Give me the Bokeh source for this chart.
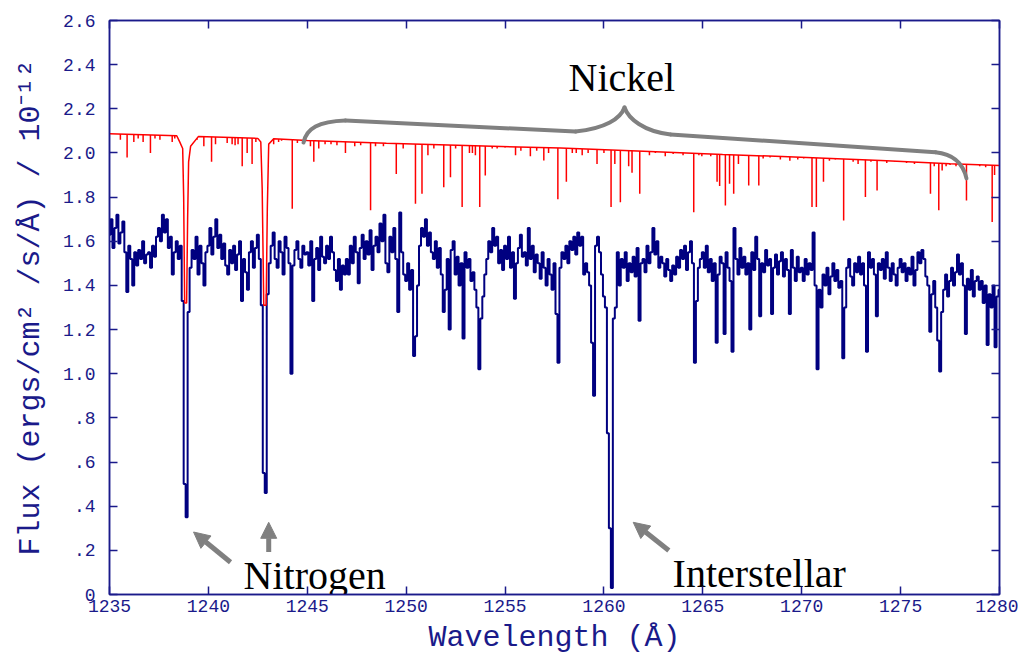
import numpy as np
from bokeh.plotting import figure
from bokeh.models import Range1d, LinearAxis, FixedTicker, Arrow, NormalHead, CustomJSTickFormatter
from bokeh.core.properties import value
from bokeh.embed import file_html
from bokeh.resources import INLINE

# ---------------- data ----------------
# observed spectrum (blue), 0.1 A bins starting at 1235.0
blue_start = 1235.0
blue_step = 0.1
blue_flux = [
    1.63, 1.70, 1.57, 1.66, 1.72, 1.59, 1.64, 1.69, 1.55, 1.37,  # 1235
    1.58, 1.52, 1.40, 1.55, 1.49, 1.56, 1.52, 1.60, 1.50, 1.54,  # 1236
    1.55, 1.48, 1.58, 1.53, 1.62, 1.66, 1.60, 1.72, 1.64, 1.70,  # 1237
    1.57, 1.62, 1.45, 1.55, 1.60, 1.52, 1.58, 1.33, 0.50, 0.35,  # 1238
    1.28, 1.48, 1.56, 1.52, 1.62, 1.45, 1.58, 1.50, 1.40, 1.55,  # 1239
    1.58, 1.66, 1.54, 1.62, 1.70, 1.57, 1.63, 1.52, 1.59, 1.49,  # 1240
    1.45, 1.56, 1.50, 1.58, 1.47, 1.54, 1.60, 1.33, 1.52, 1.46,  # 1241
    1.38, 1.55, 1.60, 1.48, 1.57, 1.63, 1.52, 1.31, 0.55, 0.46,  # 1242
    1.36, 1.50, 1.58, 1.64, 1.52, 1.48, 1.60, 1.55, 1.45, 1.62,  # 1243
    1.57, 1.50, 1.00, 1.49, 1.56, 1.60, 1.52, 1.48, 1.58, 1.54,  # 1244
    1.55, 1.49, 1.60, 1.33, 1.52, 1.57, 1.47, 1.62, 1.53, 1.50,  # 1245
    1.58, 1.52, 1.62, 1.55, 1.47, 1.42, 1.52, 1.38, 1.49, 1.45,  # 1246
    1.52, 1.45, 1.58, 1.50, 1.62, 1.55, 1.41, 1.57, 1.63, 1.52,  # 1247
    1.60, 1.54, 1.65, 1.47, 1.58, 1.62, 1.55, 1.68, 1.60, 1.72,  # 1248
    1.50, 1.46, 1.62, 1.55, 1.66, 1.52, 1.28, 1.73, 1.55, 1.45,  # 1249
    1.42, 1.50, 1.38, 1.47, 1.08, 1.17, 1.40, 1.58, 1.66, 1.62,  # 1250
    1.70, 1.58, 1.64, 1.55, 1.52, 1.60, 1.48, 1.57, 1.45, 1.28,  # 1251
    1.38, 1.52, 1.20, 1.56, 1.60, 1.45, 1.53, 1.40, 1.50, 1.16,  # 1252
    1.55, 1.48, 1.52, 1.42, 1.46, 1.38, 1.30, 1.02, 1.25, 1.35,  # 1253
    1.45, 1.52, 1.60, 1.55, 1.66, 1.58, 1.62, 1.50, 1.56, 1.47,  # 1254
    1.58, 1.52, 1.62, 1.48, 1.55, 1.34, 1.50, 1.57, 1.63, 1.53,  # 1255
    1.55, 1.49, 1.66, 1.52, 1.58, 1.46, 1.54, 1.50, 1.43, 1.55,  # 1256
    1.48, 1.40, 1.52, 1.45, 1.38, 1.50, 1.27, 1.05, 1.48, 1.55,  # 1257
    1.52, 1.58, 1.50, 1.60, 1.56, 1.62, 1.54, 1.64, 1.58, 1.62,  # 1258
    1.45, 1.50, 1.46, 1.40, 1.14, 0.90, 1.58, 1.62, 1.55, 1.45,  # 1259
    1.35, 1.30, 0.73, 0.30, 0.03, 1.25, 1.30, 1.55, 1.40, 1.52,  # 1260
    1.48, 1.55, 1.42, 1.50, 1.46, 1.53, 1.44, 1.57, 1.24, 1.50,  # 1261
    1.52, 1.46, 1.58, 1.50, 1.55, 1.66, 1.54, 1.60, 1.48, 1.53,  # 1262
    1.50, 1.44, 1.52, 1.47, 1.42, 1.49, 1.45, 1.53, 1.48, 1.56,  # 1263
    1.52, 1.58, 1.47, 1.55, 1.60, 1.50, 1.05, 1.33, 1.48, 1.52,  # 1264
    1.55, 1.48, 1.58, 1.46, 1.52, 1.42, 1.50, 1.14, 1.45, 1.53,  # 1265
    1.50, 1.18, 1.55, 1.48, 1.42, 1.10, 1.66, 1.52, 1.45, 1.57,  # 1266
    1.48, 1.53, 1.45, 1.50, 1.20, 1.55, 1.47, 1.62, 1.52, 1.26,  # 1267
    1.50, 1.46, 1.56, 1.49, 1.52, 1.27, 1.48, 1.54, 1.45, 1.51,  # 1268
    1.55, 1.44, 1.52, 1.47, 1.27, 1.56, 1.48, 1.42, 1.53, 1.46,  # 1269
    1.48, 1.42, 1.52, 1.45, 1.50, 1.47, 1.64, 1.40, 1.02, 1.38,  # 1270
    1.30, 1.45, 1.40, 1.48, 1.36, 1.44, 1.50, 1.42, 1.47, 1.39,  # 1271
    1.42, 1.07, 1.30, 1.48, 1.52, 1.44, 1.40, 1.50, 1.46, 1.53,  # 1272
    1.45, 1.50, 1.40, 1.10, 1.55, 1.48, 1.52, 1.45, 1.26, 1.50,  # 1273
    1.47, 1.52, 1.43, 1.55, 1.48, 1.42, 1.50, 1.45, 1.40, 1.48,  # 1274
    1.52, 1.46, 1.50, 1.42, 1.48, 1.45, 1.53, 1.40, 1.47, 1.55,  # 1275
    1.50, 1.56, 1.52, 1.44, 1.40, 1.19, 1.36, 1.42, 1.30, 1.15,  # 1276
    1.01, 1.28, 1.38, 1.45, 1.35, 1.42, 1.48, 1.40, 1.46, 1.54,  # 1277
    1.45, 1.50, 1.40, 1.18, 1.43, 1.38, 1.47, 1.35, 1.42, 1.44,  # 1278
    1.38, 1.42, 1.32, 1.40, 1.13, 1.36, 1.30, 1.40, 1.12, 1.35,  # 1279
    1.38,
]

# model spectrum (red): continuum with the broad N V profiles
red_wl = [1235.0, 1238.40, 1238.55, 1238.70, 1238.75, 1238.80, 1238.90, 1238.95, 1239.00,
          1239.10, 1239.50, 1242.50, 1242.65, 1242.72, 1242.80, 1242.92, 1242.98, 1243.05,
          1243.30, 1245.0, 1249.0, 1257.8, 1262.0, 1266.0, 1269.0, 1274.0, 1277.5, 1280.0]
red_flux = [2.087, 2.078, 2.05, 2.02, 1.80, 1.32, 1.32, 1.70, 1.96,
            2.03, 2.075, 2.066, 2.05, 1.84, 1.31, 1.31, 1.75, 2.04,
            2.064, 2.057, 2.044, 2.022, 2.008, 1.993, 1.984, 1.966, 1.951, 1.943]

# narrow (mostly Ni) absorption lines of the model: centre and minimum flux
ni_wl = [1235.55, 1235.89, 1236.23, 1236.45, 1236.70, 1237.07, 1237.30, 1237.55, 1238.17, 1238.30,
         1239.43, 1239.77, 1240.16, 1240.36, 1240.95, 1241.20, 1241.35, 1241.50, 1241.71, 1241.96,
         1242.21, 1242.40, 1243.30, 1243.55, 1243.70, 1244.24, 1244.50, 1245.16, 1245.33, 1245.58,
         1245.90, 1246.20, 1246.50, 1246.93, 1247.40, 1247.70, 1248.20, 1248.45, 1248.85, 1249.50,
         1249.85, 1250.47, 1250.80, 1251.10, 1251.40, 1251.90, 1252.24, 1252.50, 1252.83, 1253.20,
         1253.35, 1253.50, 1253.72, 1254.00, 1254.35, 1254.60, 1255.00, 1255.53, 1255.80, 1256.28,
         1256.60, 1256.96, 1257.20, 1257.67, 1258.10, 1258.40, 1258.60, 1258.90, 1259.20, 1259.65,
         1260.00, 1260.36, 1260.55, 1260.83, 1261.25, 1261.42, 1261.81, 1262.30, 1262.60, 1263.10,
         1263.50, 1264.00, 1264.54, 1264.80, 1264.95, 1265.40, 1265.72, 1265.85, 1266.14, 1266.35,
         1266.56, 1266.80, 1267.32, 1267.83, 1268.05, 1268.40, 1268.92, 1269.40, 1269.80, 1270.10,
         1270.52, 1270.74, 1271.10, 1271.40, 1271.70, 1272.12, 1272.60, 1272.85, 1273.22, 1273.50,
         1273.81, 1274.30, 1274.70, 1275.30, 1275.70, 1276.20, 1276.51, 1276.70, 1276.93, 1277.10,
         1277.30, 1277.50, 1277.80, 1278.00, 1278.33, 1278.70, 1279.00, 1279.30, 1279.63, 1279.75]
ni_min = [2.06, 1.98, 2.05, 2.065, 2.05, 2.00, 2.065, 2.06, 2.05, 2.065,
          2.06, 2.03, 1.96, 2.04, 2.045, 2.04, 2.035, 2.04, 1.94, 2.00,
          1.95, 2.05, 2.04, 2.05, 2.055, 1.747, 2.045, 2.03, 1.96, 2.02,
          2.04, 2.04, 2.035, 2.00, 2.03, 2.035, 1.74, 2.03, 2.03, 1.905,
          2.02, 1.77, 1.815, 1.99, 2.02, 1.845, 1.89, 2.02, 1.755, 2.00,
          2.00, 1.99, 1.755, 1.898, 2.02, 2.02, 2.025, 1.99, 2.01, 1.985,
          2.01, 1.966, 2.00, 1.79, 1.87, 2.00, 2.00, 1.99, 2.00, 1.95,
          2.00, 1.755, 1.95, 1.777, 1.94, 1.91, 1.815, 1.99, 2.00, 1.985,
          1.995, 1.99, 1.732, 1.99, 1.985, 1.985, 1.87, 1.85, 1.762, 1.86,
          1.815, 1.95, 1.853, 1.853, 1.975, 1.98, 1.97, 1.965, 1.97, 1.975,
          1.755, 1.755, 1.87, 1.965, 1.97, 1.694, 1.96, 1.95, 1.80, 1.96,
          1.83, 1.955, 1.96, 1.955, 1.95, 1.955, 1.815, 1.94, 1.74, 1.92,
          1.94, 1.945, 1.94, 1.945, 1.785, 1.945, 1.94, 1.935, 1.687, 1.90]

x_ticks = [1235, 1240, 1245, 1250, 1255, 1260, 1265, 1270, 1275, 1280]
y_ticks = [0, 0.2, 0.4, 0.6, 0.8, 1.0, 1.2, 1.4, 1.6, 1.8, 2.0, 2.2, 2.4, 2.6]
y_tick_labels = ["0", ".2", ".4", ".6", ".8", "1.0", "1.2", "1.4", "1.6", "1.8", "2.0", "2.2", "2.4", "2.6"]

# annotation texts (data coordinates of left/baseline)
ann_text = ["Nickel", "Nitrogen", "Interstellar"]
ann_x = [1258.21, 1241.78, 1263.47]
ann_y = [2.343, 0.085, 0.095]

# arrows (tail -> head)
arr_x0 = [1241.12, 1243.05, 1263.28]
arr_y0 = [0.146, 0.192, 0.199]
arr_x1 = [1239.25, 1243.05, 1261.48]
arr_y1 = [0.283, 0.327, 0.327]

# ---------------- figure ----------------
AXC = "#1a1a8a"
p = figure(width=1018, height=661, x_range=Range1d(1235, 1280), y_range=Range1d(0, 2.6),
           output_backend="svg", toolbar_location=None,
           min_border_left=109, min_border_right=19, min_border_top=20, min_border_bottom=67)
p.background_fill_color = "white"
p.border_fill_color = "white"
p.xgrid.visible = False
p.ygrid.visible = False
p.outline_line_color = AXC
p.outline_line_width = 1.5

def style_axis(ax):
    ax.axis_line_color = AXC
    ax.axis_line_width = 1.5
    ax.major_tick_line_color = AXC
    ax.major_tick_line_width = 1.5
    ax.major_tick_in = 8
    ax.major_tick_out = 0
    ax.minor_tick_line_color = None
    ax.major_label_text_color = AXC
    ax.major_label_text_font = "Liberation Mono"
    ax.major_label_text_font_size = "18px"
    ax.axis_label_text_color = AXC
    ax.axis_label_text_font = "Liberation Mono"
    ax.axis_label_text_font_size = "30px"
    ax.axis_label_text_font_style = "normal"

xa = p.xaxis[0]
ya = p.yaxis[0]
style_axis(xa)
style_axis(ya)
xa.ticker = FixedTicker(ticks=x_ticks)
ya.ticker = FixedTicker(ticks=y_ticks)
ya.major_label_overrides = dict(zip(y_ticks, y_tick_labels))
ya.major_label_orientation = "horizontal"
xa.axis_label = "Wavelength (Å)"
ya.axis_label = "Flux (ergs/cm² /s/Å) / 10⁻¹²"
xa.major_label_standoff = 5
xa.axis_label_standoff = 6
ya.major_label_standoff = 14
ya.axis_label_standoff = 12

blank = CustomJSTickFormatter(code="return ''")
top = LinearAxis(ticker=FixedTicker(ticks=x_ticks), formatter=blank)
right = LinearAxis(ticker=FixedTicker(ticks=y_ticks), formatter=blank)
for ax in (top, right):
    style_axis(ax)
    ax.major_label_text_font_size = "1px"
    ax.major_label_standoff = 0
p.add_layout(top, "above")
p.add_layout(right, "right")

# observed spectrum
blue_wl = np.round(blue_start + blue_step * np.arange(len(blue_flux)), 2)
p.step(blue_wl, blue_flux, mode="center", line_color="#000080", line_width=2.0)

# model spectrum
p.line(red_wl, red_flux, line_color="red", line_width=1.5)
ni_top = np.interp(ni_wl, red_wl, red_flux)
p.segment(x0=ni_wl, y0=ni_top, x1=ni_wl, y1=ni_min, line_color="red", line_width=1.5)

# curly brace over the Ni lines
GR = "#808080"
bz_x0 = [1244.81, 1258.56, 1261.04, 1276.76]
bz_y0 = [2.047, 2.097, 2.206, 2.003]
bz_x1 = [1246.93, 1261.04, 1263.37, 1278.33]
bz_y1 = [2.147, 2.206, 2.084, 1.885]
bz_cx0 = [1244.96, 1260.08, 1261.24, 1277.77]
bz_cy0 = [2.111, 2.111, 2.156, 1.994]
bz_cx1 = [1245.57, 1260.84, 1262.00, 1278.18]
bz_cy1 = [2.143, 2.156, 2.097, 1.944]
p.bezier(x0=bz_x0, y0=bz_y0, x1=bz_x1, y1=bz_y1, cx0=bz_cx0, cy0=bz_cy0,
         cx1=bz_cx1, cy1=bz_cy1, line_color=GR, line_width=4, line_cap="round")
p.segment(x0=[1246.93, 1263.37], y0=[2.147, 2.084], x1=[1258.56, 1276.76], y1=[2.097, 2.003],
          line_color=GR, line_width=4, line_cap="round")

# arrows
for i in range(len(arr_x0)):
    p.add_layout(Arrow(end=NormalHead(size=16, fill_color=GR, line_color=GR),
                       x_start=arr_x0[i], y_start=arr_y0[i], x_end=arr_x1[i], y_end=arr_y1[i],
                       line_color=GR, line_width=5))

# labels
p.text(x=ann_x, y=ann_y, text=ann_text, text_font=value("Liberation Serif"),
       text_font_size="40px", text_color="black", text_baseline="alphabetic", text_align="left")

open("out.html", "w").write(file_html(p, INLINE))
